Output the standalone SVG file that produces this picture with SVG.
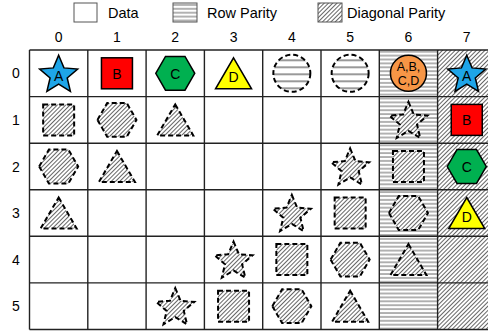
<svg xmlns="http://www.w3.org/2000/svg" xmlns:xlink="http://www.w3.org/1999/xlink" width="488" height="332" viewBox="0 0 488 332">
<style>
text{font-family:"Liberation Sans",Arial,sans-serif;fill:#000}
.lg{font-size:14.5px}
.hd{font-size:14px;text-anchor:middle}
.lt{font-size:14px;text-anchor:middle}
.sm{font-size:12.5px;text-anchor:middle}
.data{stroke:#000;stroke-width:1.5;stroke-linejoin:miter}
.par{fill:url(#hatch);stroke:#000;stroke-width:2;stroke-dasharray:5 3}
.rpar{fill:url(#stripesC);stroke:#000;stroke-width:2;stroke-dasharray:5 3}
.grid line{stroke:#222;stroke-width:1.4}
</style>
<defs>
<pattern id="hatch" patternUnits="userSpaceOnUse" width="3" height="3" patternTransform="rotate(45)">
<rect width="3" height="3" fill="#fff"/>
<line x1="0.5" y1="0" x2="0.5" y2="3" stroke="#555" stroke-width="0.9"/>
</pattern>
<pattern id="stripes" patternUnits="userSpaceOnUse" width="8" height="3.9">
<rect width="8" height="3.9" fill="#fff"/>
<line x1="0" y1="1" x2="8" y2="1" stroke="#666" stroke-width="1"/>
</pattern>
<pattern id="stripesC" patternUnits="userSpaceOnUse" width="8" height="7">
<rect width="8" height="7" fill="#fff"/>
<line x1="0" y1="1" x2="8" y2="1" stroke="#333" stroke-width="1"/>
</pattern>
<path id="star" d="M0,-18.1 L5.3,-5.4 L19.02,-4.28 L8.56,4.7 L11.76,18.08 L0,10.9 L-11.76,18.08 L-8.56,4.7 L-19.02,-4.28 L-5.3,-5.4 Z"/>
<rect id="sq" x="-15.5" y="-15.5" width="31" height="31"/>
<polygon id="hex" points="-19.5,0 -9.75,-16.9 9.75,-16.9 19.5,0 9.75,16.9 -9.75,16.9"/>
<polygon id="tri" points="0,-15.5 18,15.5 -18,15.5"/>
<circle id="circ" r="18.5"/>
</defs>
<rect width="488" height="332" fill="#fff"/>

<g id="legend">
<rect x="74" y="3" width="23" height="19" fill="#fff" stroke="#555" stroke-width="1"/>
<text class="lg" x="108" y="17.5">Data</text>
<rect x="173" y="3" width="24" height="19" fill="url(#stripes)" stroke="#555" stroke-width="1"/>
<text class="lg" x="207" y="17.5">Row Parity</text>
<rect x="318" y="3" width="24" height="19" fill="url(#hatch)" stroke="#555" stroke-width="1"/>
<text class="lg" x="347" y="17.5">Diagonal Parity</text>
</g>

<g id="headers">
<text class="hd" x="58.65" y="42">0</text>
<text class="hd" x="116.95" y="42">1</text>
<text class="hd" x="175.25" y="42">2</text>
<text class="hd" x="233.55" y="42">3</text>
<text class="hd" x="291.85" y="42">4</text>
<text class="hd" x="350.15" y="42">5</text>
<text class="hd" x="408.45" y="42">6</text>
<text class="hd" x="466.75" y="42">7</text>
<text class="hd" x="16" y="78.3">0</text>
<text class="hd" x="16" y="124.9">1</text>
<text class="hd" x="16" y="171.5">2</text>
<text class="hd" x="16" y="218">3</text>
<text class="hd" x="16" y="264.6">4</text>
<text class="hd" x="16" y="311.2">5</text>
</g>

<g id="parity-columns">
<rect x="379.3" y="50" width="58.3" height="279.5" fill="url(#stripes)"/>
<rect x="437.6" y="50" width="60" height="279.5" fill="url(#hatch)"/>
</g>

<g class="grid" id="grid">
<line x1="29.5" y1="50" x2="488" y2="50"/>
<line x1="29.5" y1="96.6" x2="488" y2="96.6"/>
<line x1="29.5" y1="143.2" x2="488" y2="143.2"/>
<line x1="29.5" y1="189.7" x2="488" y2="189.7"/>
<line x1="29.5" y1="236.3" x2="488" y2="236.3"/>
<line x1="29.5" y1="282.9" x2="488" y2="282.9"/>
<line x1="29.5" y1="329.5" x2="488" y2="329.5"/>
<line x1="29.5" y1="50" x2="29.5" y2="329.5"/>
<line x1="87.8" y1="50" x2="87.8" y2="329.5"/>
<line x1="146.1" y1="50" x2="146.1" y2="329.5"/>
<line x1="204.4" y1="50" x2="204.4" y2="329.5"/>
<line x1="262.7" y1="50" x2="262.7" y2="329.5"/>
<line x1="321" y1="50" x2="321" y2="329.5"/>
<line x1="379.3" y1="50" x2="379.3" y2="329.5"/>
<line x1="437.6" y1="50" x2="437.6" y2="329.5"/>
</g>

<g id="d00"><use xlink:href="#star" x="58.65" y="73.3" class="data" fill="#1ea5e8"/><text class="lt" x="58.65" y="81">A</text></g>
<g id="d01"><use xlink:href="#sq" x="116.95" y="73.3" class="data" fill="#ff0000"/><text class="lt" x="116.95" y="78.5">B</text></g>
<g id="d02"><use xlink:href="#hex" x="175.25" y="73.3" class="data" fill="#00b050"/><text class="lt" x="175.25" y="78.5">C</text></g>
<g id="d03"><use xlink:href="#tri" x="233.55" y="73.3" class="data" fill="#ffff00"/><text class="lt" x="233.55" y="82">D</text></g>
<g id="r04"><use xlink:href="#circ" x="291.85" y="73.3" class="rpar"/></g>
<g id="r05"><use xlink:href="#circ" x="350.15" y="73.3" class="rpar"/></g>
<g id="rp0"><circle cx="408.45" cy="73.3" r="18" class="data" fill="#f79646"/><text class="sm" x="408.45" y="71">A,B,</text><text class="sm" x="408.45" y="84.5">C,D</text></g>
<g id="dp0"><use xlink:href="#star" x="466.75" y="73.3" class="data" fill="#1ea5e8"/><text class="lt" x="466.75" y="81">A</text></g>

<g id="p10"><use xlink:href="#sq" x="58.65" y="119.9" class="par"/></g>
<g id="p11"><use xlink:href="#hex" x="116.95" y="119.9" class="par"/></g>
<g id="p12"><use xlink:href="#tri" x="175.25" y="119.9" class="par"/></g>
<g id="p16"><use xlink:href="#star" x="408.45" y="119.9" class="par"/></g>
<g id="dp1"><use xlink:href="#sq" x="466.75" y="119.9" class="data" fill="#ff0000"/><text class="lt" x="466.75" y="125">B</text></g>

<g id="p20"><use xlink:href="#hex" x="58.65" y="166.5" class="par"/></g>
<g id="p21"><use xlink:href="#tri" x="116.95" y="166.5" class="par"/></g>
<g id="p25"><use xlink:href="#star" x="350.15" y="166.5" class="par"/></g>
<g id="p26"><use xlink:href="#sq" x="408.45" y="166.5" class="par"/></g>
<g id="dp2"><use xlink:href="#hex" x="466.75" y="166.5" class="data" fill="#00b050"/><text class="lt" x="466.75" y="171.5">C</text></g>

<g id="p30"><use xlink:href="#tri" x="58.65" y="213" class="par"/></g>
<g id="p34"><use xlink:href="#star" x="291.85" y="213" class="par"/></g>
<g id="p35"><use xlink:href="#sq" x="350.15" y="213" class="par"/></g>
<g id="p36"><use xlink:href="#hex" x="408.45" y="213" class="par"/></g>
<g id="dp3"><use xlink:href="#tri" x="466.75" y="213" class="data" fill="#ffff00"/><text class="lt" x="466.75" y="222">D</text></g>

<g id="p43"><use xlink:href="#star" x="233.55" y="259.6" class="par"/></g>
<g id="p44"><use xlink:href="#sq" x="291.85" y="259.6" class="par"/></g>
<g id="p45"><use xlink:href="#hex" x="350.15" y="259.6" class="par"/></g>
<g id="p46"><use xlink:href="#tri" x="408.45" y="259.6" class="par"/></g>

<g id="p52"><use xlink:href="#star" x="175.25" y="306.2" class="par"/></g>
<g id="p53"><use xlink:href="#sq" x="233.55" y="306.2" class="par"/></g>
<g id="p54"><use xlink:href="#hex" x="291.85" y="306.2" class="par"/></g>
<g id="p55"><use xlink:href="#tri" x="350.15" y="306.2" class="par"/></g>
</svg>
